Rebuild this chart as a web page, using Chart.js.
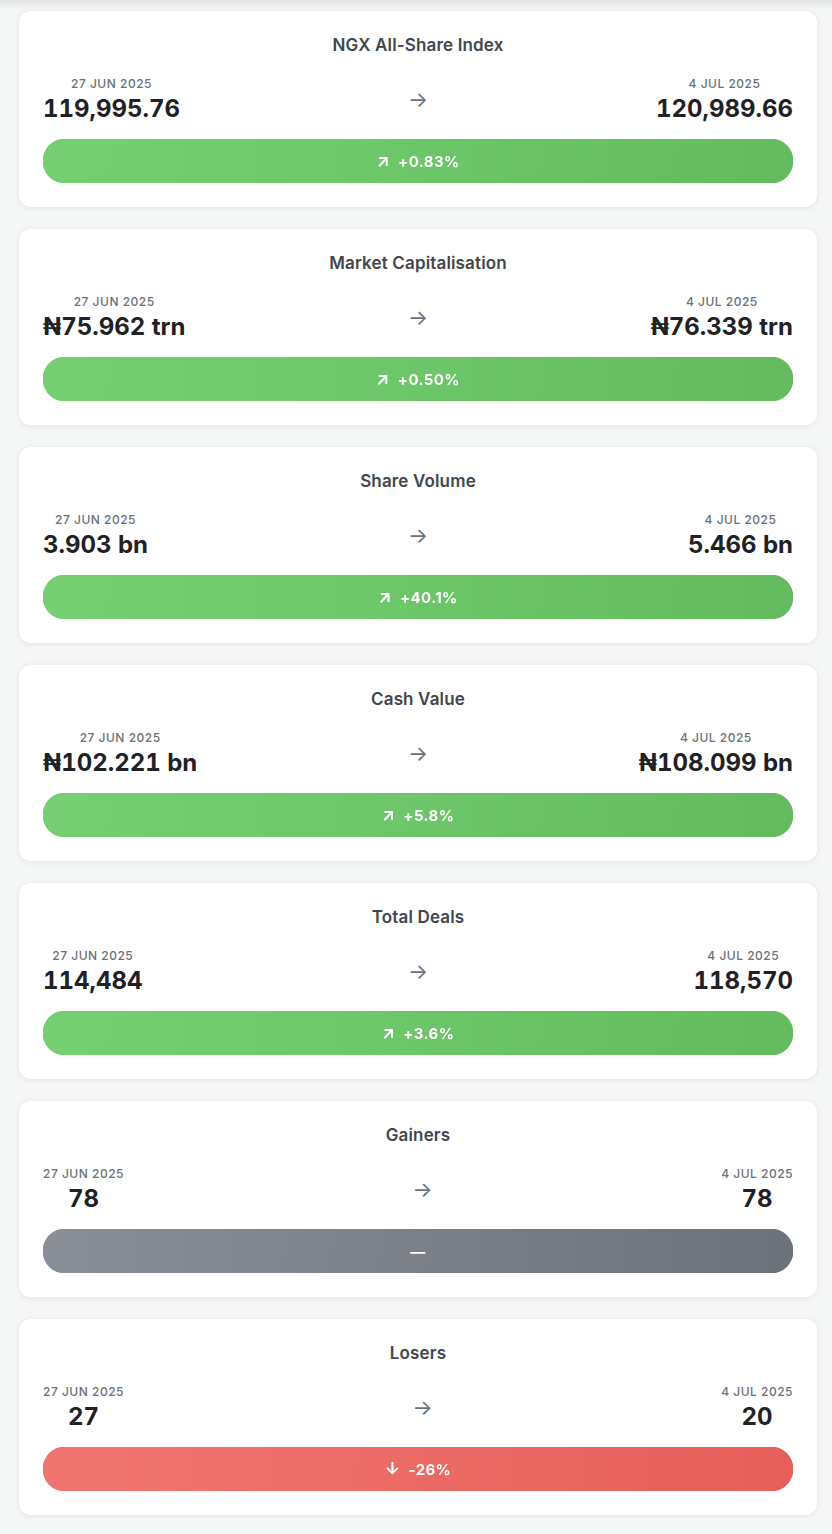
<!DOCTYPE html>
<html>
<head>
<meta charset="utf-8">
<script src="https://cdn.jsdelivr.net/npm/chart.js@4.4.1/dist/chart.umd.min.js"></script>
<style>
  html, body { margin: 0; padding: 0; }
  body {
    background: #f5f6f6;
    font-family: Inter, "Noto Sans", sans-serif;
    width: 832px;
  }
  .topshade {
    position: absolute; left: 0; top: 0; width: 832px; height: 10px;
    background: linear-gradient(#e3e4e4, #f5f6f6);
  }
  #cards { position: relative; padding-top: 11px; }
  .card {
    box-sizing: border-box;
    width: 798px; height: 196px;
    margin: 0 0 22px 19px;
    padding: 24px;
    background: #fff;
    border-radius: 12px;
    box-shadow: 0 1px 6px rgba(0,0,0,0.08);
  }
  .title {
    font-size: 17px; line-height: 20px; font-weight: 600;
    letter-spacing: 0.15px;
    color: #41464d; text-align: center;
  }
  .row {
    display: flex; justify-content: space-between; align-items: center;
    margin-top: 21px; height: 48px;
  }
  .side { text-align: center; }
  .date {
    font-size: 12px; line-height: 16px; font-weight: 500;
    letter-spacing: 0.5px; color: #6b7079;
  }
  .val {
    font-size: 24px; line-height: 30px; font-weight: 700;
    font-feature-settings: 'tnum' 1; font-variant-numeric: tabular-nums;
    color: #1f2125; margin-top: 2px;
  }
  .arrow { font-size: 21px; line-height: 20px; color: #6b7079; }
  .pill { position: relative; height: 44px; margin-top: 15px; }
</style>
</head>
<body>
<div class="topshade"></div>
<div id="cards"></div>
<script>
const titles = ['NGX All-Share Index', 'Market Capitalisation', 'Share Volume', 'Cash Value', 'Total Deals', 'Gainers', 'Losers'];
const startDate = '27 JUN 2025';
const endDate = '4 JUL 2025';
const startValues = ['119,995.76', '₦75.962 trn', '3.903 bn', '₦102.221 bn', '114,484', '78', '27'];
const endValues = ['120,989.66', '₦76.339 trn', '5.466 bn', '₦108.099 bn', '118,570', '78', '20'];
const changeLabels = ['+0.83%', '+0.50%', '+40.1%', '+5.8%', '+3.6%', '—', '-26%'];
const trends = ['up', 'up', 'up', 'up', 'up', 'flat', 'down'];

// each pill is one full-length bar on a 0-100 track
const trackMax = 100;

const trendColors = {
    up:   ['#76d073', '#63bb5e'],
    flat: ['#8a8e96', '#6d727a'],
    down: ['#f07571', '#e75f59']
};
const trendIcons = { up: '↗', flat: '', down: '↓' };

const container = document.getElementById('cards');

titles.forEach((title, i) => {
    const card = document.createElement('div');
    card.className = 'card';
    card.innerHTML = `
        <div class="title">${title}</div>
        <div class="row">
            <div class="side"><div class="date">${startDate}</div><div class="val">${startValues[i]}</div></div>
            <div class="arrow">→</div>
            <div class="side"><div class="date">${endDate}</div><div class="val">${endValues[i]}</div></div>
        </div>
        <div class="pill"><canvas id="pill${i}"></canvas></div>`;
    container.appendChild(card);
    drawPill(i);
});

// Draws the change pill as a single rounded horizontal bar
function drawPill(i) {
    const colors = trendColors[trends[i]];
    const icon = trendIcons[trends[i]];
    const text = changeLabels[i];

    const pillLabel = {
        id: 'pillLabel',
        afterDatasetsDraw(chart) {
            const { ctx, chartArea: a } = chart;
            const cx = (a.left + a.right) / 2;
            const cy = (a.top + a.bottom) / 2 + 1;
            ctx.save();
            ctx.fillStyle = '#ffffff';
            ctx.textBaseline = 'middle';
            ctx.textAlign = 'left';
            ctx.font = '700 15px Inter, "Noto Sans", sans-serif';
            if ('letterSpacing' in ctx) ctx.letterSpacing = '0.4px';
            const tw = ctx.measureText(text).width;
            ctx.font = '700 17px Inter, "DejaVu Sans", sans-serif';
            const iw = icon ? ctx.measureText(icon).width : 0;
            const gap = icon ? 8 : 0;
            let x = cx - (iw + gap + tw) / 2;
            if (icon) {
                ctx.fillText(icon, x, cy);
                x += iw + gap;
            }
            ctx.font = '700 15px Inter, "Noto Sans", sans-serif';
            ctx.fillText(text, x, cy);
            ctx.restore();
        }
    };

    new Chart(document.getElementById('pill' + i), {
        type: 'bar',
        data: {
            labels: [titles[i]],
            datasets: [{
                data: [trackMax],
                backgroundColor: (c) => {
                    const a = c.chart.chartArea;
                    if (!a) return colors[1];
                    const g = c.chart.ctx.createLinearGradient(a.left, a.top, a.right, a.bottom);
                    g.addColorStop(0, colors[0]);
                    g.addColorStop(1, colors[1]);
                    return g;
                },
                borderRadius: 22,
                borderSkipped: false,
                barPercentage: 1,
                categoryPercentage: 1
            }]
        },
        options: {
            indexAxis: 'y',
            responsive: true,
            maintainAspectRatio: false,
            animation: false,
            layout: { padding: 0 },
            scales: {
                x: { display: false, min: 0, max: trackMax },
                y: { display: false }
            },
            plugins: { legend: { display: false }, tooltip: { enabled: false } }
        },
        plugins: [pillLabel]
    });
}
</script>
</body>
</html>
